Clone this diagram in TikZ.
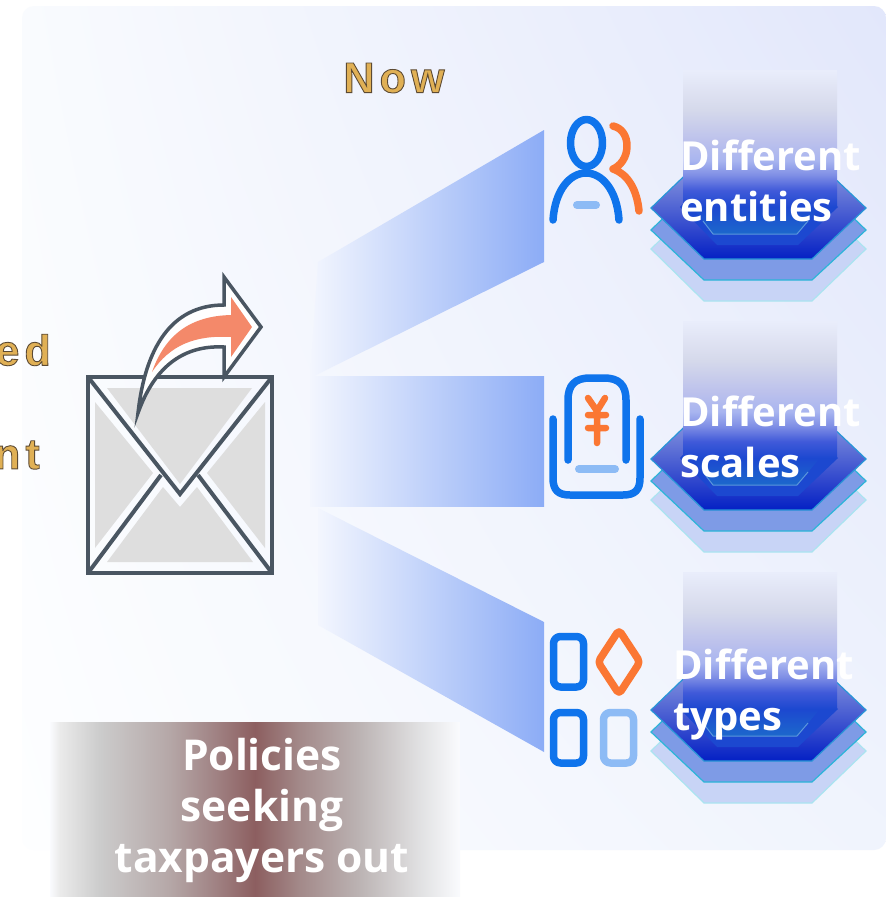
\documentclass[tikz,border=0pt]{standalone}
\usepackage{fontspec}
\setmainfont{Open Sans}
\newfontfamily\goldfont[LetterSpace=12]{Liberation Sans Bold}
\usetikzlibrary{shadings}
\definecolor{iconblue}{HTML}{0F74EC}
\definecolor{iconorange}{HTML}{FB7733}
\definecolor{iconlight}{HTML}{8DBBF5}
\definecolor{wedgeblue}{HTML}{8CACF6}
\definecolor{wedgepale}{HTML}{F3F6FE}
\definecolor{envline}{HTML}{4A5662}
\definecolor{envgrey}{HTML}{DEDEDE}
\definecolor{arrowfill}{HTML}{F4896A}
\definecolor{goldtext}{HTML}{E0B055}
\definecolor{bgul}{HTML}{F9FBFE}
\definecolor{bgur}{HTML}{E2E7FB}
\definecolor{bglr}{HTML}{F0F4FD}
\definecolor{bgll}{HTML}{FDFEFF}
\definecolor{hexlowfill}{HTML}{C8D4F6}
\definecolor{hexlowline}{HTML}{AAE4F0}
\definecolor{hexmidfill}{HTML}{7E9BE6}
\definecolor{hexmidline}{HTML}{2CB5D8}
\definecolor{hextopline}{HTML}{2896D7}
\definecolor{hextopup}{HTML}{9AA6E2}
\definecolor{hextopdown}{HTML}{0420C4}
\definecolor{hexinner}{HTML}{1C48D0}
\definecolor{hexcore}{HTML}{1C68CC}
\definecolor{hexcoreline}{HTML}{5A96DC}
\pgfdeclarehorizontalshading{bannershade}{100bp}{
  rgb(0bp)=(0.98,0.985,0.995); rgb(25bp)=(0.98,0.985,0.995); rgb(26.2bp)=(0.92,0.92,0.92); rgb(31bp)=(0.80,0.80,0.80); rgb(39.6bp)=(0.71,0.655,0.655);
  rgb(45bp)=(0.63,0.515,0.52); rgb(50bp)=(0.55,0.37,0.375); rgb(55.5bp)=(0.64,0.54,0.54);
  rgb(63bp)=(0.74,0.71,0.71); rgb(70bp)=(0.88,0.88,0.885); rgb(75bp)=(0.98,0.985,0.995); rgb(100bp)=(0.98,0.985,0.995)}
\pgfdeclareverticalshading{columnshade}{100bp}{
  color(0bp)=(hexinner); color(25bp)=(hexinner); rgb(31bp)=(0.25,0.35,0.85); rgb(36.7bp)=(0.50,0.56,0.90);
  rgb(42bp)=(0.66,0.71,0.94); rgb(49.5bp)=(0.74,0.76,0.925); rgb(60.4bp)=(0.835,0.85,0.92);
  rgb(75bp)=(0.915,0.93,0.985); rgb(100bp)=(0.915,0.93,0.985)}
\newcommand{\goldedge}[1]{\special{pdf:code 2 Tr 0.9 w 0.36 0.29 0.2 RG}#1\special{pdf:code 0 Tr}}

\begin{document}
\begin{tikzpicture}
[x=1pt, y=-1pt,
 iconline/.style={line width=7.5pt, line cap=round, line join=round},
 wedge/.style={left color=wedgepale, right color=wedgeblue},
 captext/.style={anchor=north west, align=left, text=white, font=\fontsize{40}{51}\selectfont\bfseries, inner sep=0pt},
 goldlabel/.style={text=goldtext, font=\fontsize{43}{43}\selectfont\goldfont, inner sep=0pt}]

\useasboundingbox (0,0) rectangle (886,897);
\fill[white] (0,0) rectangle (886,897);

%Background
\shade[rounded corners=12pt, upper left=bgul, upper right=bgur, lower right=bglr, lower left=bgll] (22,6) rectangle (886,850);

%Wedges
\shade[wedge] (318,262) -- (544,130) -- (544,262) -- (310,378) -- cycle;
\shade[wedge] (310,376) -- (544,376) -- (544,506) -- (310,506) -- cycle;
\shade[wedge] (318,508) -- (544,622) -- (544,752) -- (318,625) -- cycle;

%Hexagon stacks
\foreach \off in {0,251,502}{
\begin{scope}[shift={(0,\off)}]
\filldraw[draw=hexlowline, line width=1.2pt, fill=hexlowfill] (651,249) -- (704,197) -- (812,197) -- (866,249) -- (812,301) -- (704,301) -- cycle;
\filldraw[draw=hexmidline, line width=1.2pt, fill=hexmidfill] (651,230) -- (704,178) -- (812,178) -- (866,230) -- (812,280) -- (704,280) -- cycle;
\shade[draw=hextopline, line width=1.2pt, top color=hextopup, bottom color=hextopdown] (651,208) -- (704,157) -- (812,157) -- (866,208) -- (812,259) -- (704,259) -- cycle;
\fill[hexinner] (680,207) -- (717,168) -- (798,168) -- (838,207) -- (798,245) -- (717,245) -- cycle;
\shade[top color=hexinner, bottom color=hexcore] (692,207) -- (713,234) -- (797,234) -- (820,207) -- cycle;
\draw[hexcoreline, line width=1pt] (703,221) -- (713,234) -- (797,234) -- (808,221);
\shade[shading=columnshade] (683,70) rectangle (837,207);
\end{scope}
}

%Envelope
\fill[envgrey] (107,388) -- (252,388) -- (180,484) -- cycle;
\fill[envgrey] (95,402) -- (153,473) -- (95,548) -- cycle;
\fill[envgrey] (265,402) -- (207,473) -- (265,548) -- cycle;
\fill[envgrey] (107,562) -- (163,487) -- (180,507) -- (197,487) -- (253,562) -- cycle;
\draw[envline, line width=4.5pt] (88,377) rectangle (272,573);
\draw[envline, line width=4pt, line join=miter] (88,377) -- (180,494) -- (272,377);
\draw[envline, line width=4pt] (88,573) -- (161,475);
\draw[envline, line width=4pt] (272,573) -- (198,475);

%Arrow
\filldraw[draw=envline, line width=3.5pt, fill=white, line join=miter] (138,413) .. controls (145,350) and (170,305) .. (224,305) -- (224,277) -- (261,327) -- (224,377) -- (224,347) .. controls (185,345) and (155,365) .. cycle;
\fill[arrowfill] (152,372) .. controls (165,335) and (190,316) .. (231,315) -- (231,297) -- (252,327) -- (231,357) -- (231,337) .. controls (195,335) and (170,345) .. cycle;

%Person icon
\draw[iconblue, iconline] (586.5,143) ellipse (16 and 23.5);
\draw[iconblue, iconline] (553,220) .. controls (555,190) and (570,173) .. (586,173) .. controls (602,173) and (617,190) .. (619,220);
\draw[iconlight, line width=8pt, line cap=round] (577,205) -- (596,205);
\draw[iconorange, iconline] (613,126) .. controls (622,128) and (627,136) .. (627,146) .. controls (627,158) and (620,166) .. (613,169) .. controls (628,174) and (637,190) .. (639,211);

%Yen icon
\draw[iconblue, iconline] (568,460) -- (568,400) .. controls (568,385) and (575,378) .. (590,378) -- (604,378) .. controls (619,378) and (626,385) .. (626,400) -- (626,460);
\draw[iconblue, iconline] (553,419) -- (553,478) .. controls (553,490) and (558,495) .. (570,495) -- (623,495) .. controls (635,495) and (640,490) .. (640,478) -- (640,419);
\draw[iconlight, line width=8pt, line cap=round] (579,469) -- (615,469);
\draw[iconorange, line width=6.5pt, line cap=round, line join=round] (588,398) -- (597,411) -- (605,398) (597,411) -- (597,443) (588,415) -- (606,415) (588,428) -- (606,428);

%Types icon
\draw[iconblue, iconline, rounded corners=7pt] (553.5,636.5) rectangle (583.5,687);
\draw[iconblue, iconline, rounded corners=7pt] (553.5,712.5) rectangle (583.5,763);
\draw[iconlight, iconline, rounded corners=7pt] (603.5,712.5) rectangle (633.5,763);
\draw[iconorange, iconline, rounded corners=4pt] (619,630) -- (640,662) -- (619,694) -- (598,662) -- cycle;

%Banner
\shade[shading=bannershade] (50,722) rectangle (460,897);

%Nodes
\node[goldlabel, anchor=center] (now) at (394,78) {\goldedge{Now}};
\node[goldlabel, anchor=east] (cutone) at (51,350) {\goldedge{ed}};
\node[goldlabel, anchor=east] (cuttwo) at (40,455) {\goldedge{nt}};
\node[captext] (entities) at (680,140) {Different\\entities};
\node[captext] (scales) at (680,396) {Different\\scales};
\node[captext] (types) at (673,649) {Different\\types};
\node[anchor=center, align=center, text=white, font=\fontsize{42.5}{51}\selectfont\bfseries, inner sep=0pt] (policies) at (262,810) {Policies\\seeking\\taxpayers out};

\end{tikzpicture}
\end{document}
